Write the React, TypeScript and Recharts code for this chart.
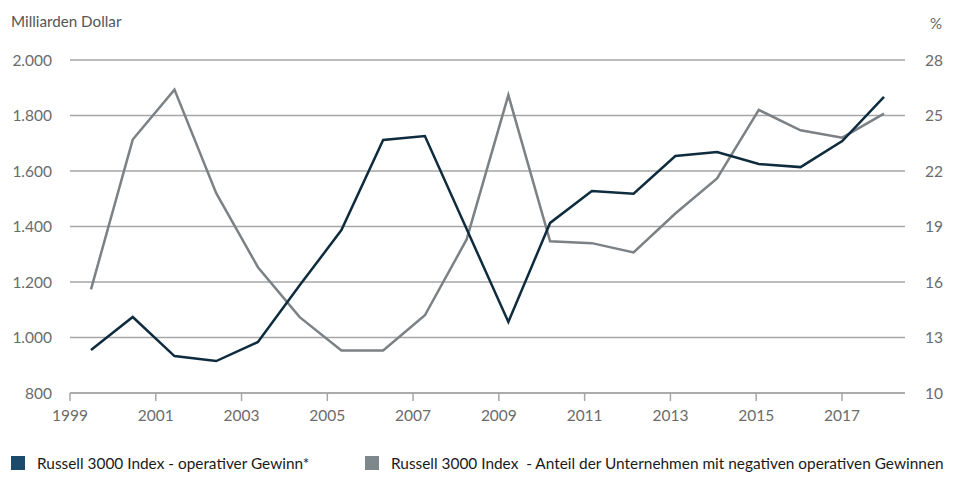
import { CartesianGrid, Line, LineChart, XAxis, YAxis } from 'recharts';

const years = [
  '1999', '2000', '2001', '2002', '2003', '2004', '2005', '2006', '2007', '2008',
  '2009', '2010', '2011', '2012', '2013', '2014', '2015', '2016', '2017', '2018',
];

// Russell 3000 operativer Gewinn, Mrd. USD
const gewinn = [
  955, 1074, 933, 915, 984, 1188, 1387, 1712, 1726, 1391,
  1056, 1413, 1528, 1518, 1654, 1668, 1625, 1614, 1708, 1867,
];

// Anteil der Unternehmen mit negativen operativen Gewinnen, %
const anteil = [
  15.6, 23.7, 26.4, 20.8, 16.8, 14.1, 12.3, 12.3, 14.2, 18.3,
  26.1, 18.2, 18.1, 17.6, 19.7, 21.6, 25.3, 24.2, 23.8, 25.1,
];

const xTicks = [1999, 2001, 2003, 2005, 2007, 2009, 2011, 2013, 2015, 2017];
const leftTicks = [800, 1000, 1200, 1400, 1600, 1800, 2000];
const rightTicks = [10, 13, 16, 19, 22, 25, 28];

const seriesNames = [
  'Russell 3000 Index - operativer Gewinn*',
  'Russell 3000 Index  - Anteil der Unternehmen mit negativen operativen Gewinnen',
];

const data = years.map((year, i) => ({ year, yr: Number(year), gewinn: gewinn[i], anteil: anteil[i] }));

const font = 'Lato, "Open Sans", sans-serif';
const tickStyle = { fill: '#6b6b6b', fontSize: 15.5, fontFamily: font };

const fmt = (v: number) => v.toLocaleString('de-DE');

const legendRow = {
  position: 'absolute' as const,
  top: 454,
  display: 'flex',
  alignItems: 'center',
  fontSize: 15.4,
  color: '#1a1a1a',
  whiteSpace: 'pre' as const,
};

export default function App() {
  return (
    <div style={{ position: 'absolute', left: 0, top: 0, width: 960, height: 488, background: '#fff', fontFamily: font }}>
      <div style={{ position: 'absolute', left: 11, top: 12, fontSize: 15.2, color: '#555' }}>Milliarden Dollar</div>
      <div style={{ position: 'absolute', left: 930, top: 14, fontSize: 15, color: '#666' }}>%</div>
      <LineChart width={960} height={488} data={data} margin={{ top: 60, right: 0, bottom: 65, left: 0 }}>
        <CartesianGrid horizontal vertical={false} stroke="#a6a6a6" strokeWidth={1.5} yAxisId="left" xAxisId="num" />
        <XAxis
          xAxisId="num"
          dataKey="yr"
          type="number"
          domain={[1999, 2018.47]}
          ticks={xTicks}
          allowDataOverflow
          height={30}
          stroke="#a6a6a6"
          strokeWidth={1.5}
          tickSize={8}
          tickMargin={9}
          tick={tickStyle}
        />
        <XAxis xAxisId="cat" dataKey="year" hide height={0} padding={{ left: 21, right: 21 }} />
        <YAxis
          yAxisId="left"
          domain={[800, 2000]}
          ticks={leftTicks}
          width={70}
          axisLine={false}
          tickLine={false}
          tickSize={0}
          tickMargin={18}
          tick={tickStyle}
          tickFormatter={fmt}
        />
        <YAxis
          yAxisId="right"
          orientation="right"
          domain={[10, 28]}
          ticks={rightTicks}
          width={55}
          axisLine={false}
          tickLine={false}
          tickSize={0}
          tickMargin={20}
          tick={tickStyle}
        />
        <Line
          xAxisId="cat"
          yAxisId="right"
          dataKey="anteil"
          type="linear"
          stroke="#7b8185"
          strokeWidth={2.5}
          dot={false}
          isAnimationActive={false}
        />
        <Line
          xAxisId="cat"
          yAxisId="left"
          dataKey="gewinn"
          type="linear"
          stroke="#0f2c3f"
          strokeWidth={2.5}
          dot={false}
          isAnimationActive={false}
        />
      </LineChart>
      <div style={{ ...legendRow, left: 11 }}>
        <span style={{ width: 14, height: 14, background: '#1c4a6a', display: 'inline-block', marginRight: 12 }} />
        <span>{seriesNames[0]}</span>
      </div>
      <div style={{ ...legendRow, left: 365 }}>
        <span style={{ width: 14, height: 14, background: '#7e878c', display: 'inline-block', marginRight: 12 }} />
        <span>{seriesNames[1]}</span>
      </div>
    </div>
  );
}
